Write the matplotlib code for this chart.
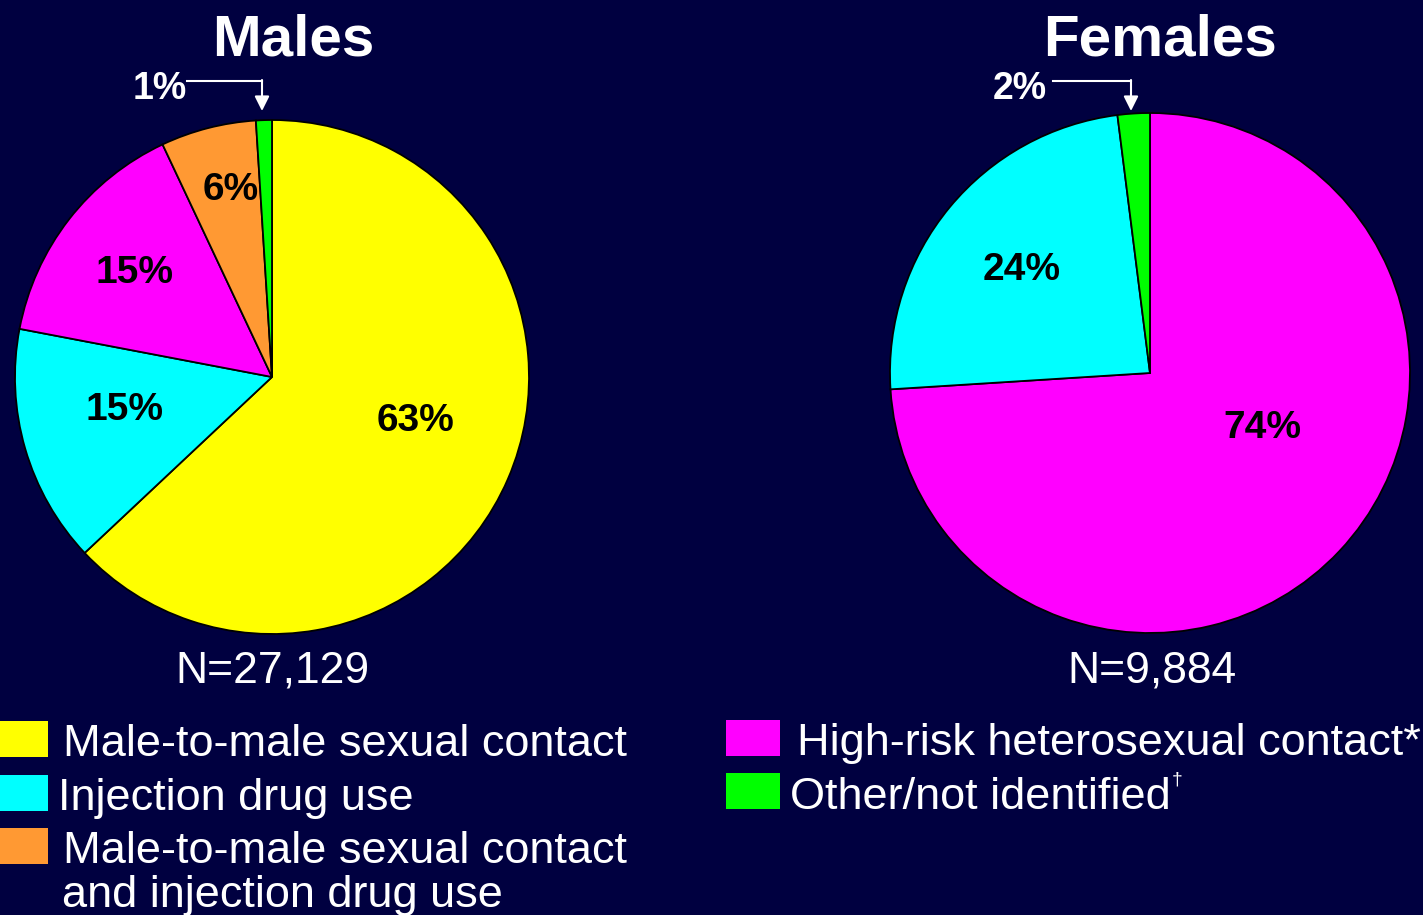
import numpy as np
import matplotlib.pyplot as plt
from matplotlib.patches import Rectangle

plt.rcParams['font.family'] = ['Liberation Sans', 'DejaVu Sans']

# data
male_labels = ['Male-to-male sexual contact', 'Injection drug use',
               'High-risk heterosexual contact*',
               'Male-to-male sexual contact\nand injection drug use',
               'Other/not identified']
male_values = [63, 15, 15, 6, 1]
male_n = 'N=27,129'

female_labels = ['High-risk heterosexual contact*', 'Injection drug use',
                 'Other/not identified']
female_values = [74, 24, 2]
female_n = 'N=9,884'

bg = '#000040'
col = {'msm': '#FFFF00', 'idu': '#00FFFF', 'het': '#FF00FF',
       'msmidu': '#FF9933', 'other': '#00FF00'}
male_colors = [col['msm'], col['idu'], col['het'], col['msmidu'], col['other']]
female_colors = [col['het'], col['idu'], col['other']]

W, H = 1423, 915
fig = plt.figure(figsize=(W / 100, H / 100), dpi=100, facecolor=bg)


def pie_axes(cx, cy, r, values, colors):
    ax = fig.add_axes([(cx - r) / W, (H - cy - r) / H, 2 * r / W, 2 * r / H])
    ax.pie(values, colors=colors, startangle=90, counterclock=False,
           radius=1, wedgeprops=dict(edgecolor='black', linewidth=1.3))
    ax.set_xlim(-1, 1)
    ax.set_ylim(-1, 1)
    ax.set_aspect('equal')
    ax.axis('off')
    return ax


ax_m = pie_axes(272, 377, 257, male_values, male_colors)
ax_f = pie_axes(1150, 373, 260, female_values, female_colors)

# overlay in pixel coordinates for text
ov = fig.add_axes([0, 0, 1, 1], facecolor='none')
ov.set_xlim(0, W)
ov.set_ylim(H, 0)
ov.axis('off')

ov.text(293, 55, 'Males', color='white', fontsize=42, fontweight='bold',
        ha='center', va='baseline')
ov.text(1160, 55, 'Females', color='white', fontsize=42, fontweight='bold',
        ha='center', va='baseline')

pct_kw = dict(color='black', fontsize=28, fontweight='bold', ha='center', va='center')
male_pct_pos = [(416, 421), (124, 410), (135, 273), (231, 190)]
for (x, y), v in zip(male_pct_pos, male_values[:4]):
    ov.text(x, y, f'{v}%', **pct_kw)
female_pct_pos = [(1262, 428), (1022, 270)]
for (x, y), v in zip(female_pct_pos, female_values[:2]):
    ov.text(x, y, f'{v}%', **pct_kw)

# small slice callouts
for x, v, x0, x1 in [(160, male_values[4], 187, 262), (1020, female_values[2], 1053, 1131)]:
    ov.text(x, 99, f'{v}%', color='white', fontsize=27, fontweight='bold',
            ha='center', va='baseline')
    ov.plot([x0, x1], [81, 81], color='white', lw=1.5)
    ov.annotate('', xy=(x1, 111), xytext=(x1, 80),
                arrowprops=dict(arrowstyle='-|>', color='white', lw=1.5,
                                mutation_scale=22, shrinkA=0, shrinkB=0))

ov.text(272, 682, male_n, color='white', fontsize=32, ha='center', va='baseline')
ov.text(1152, 682, female_n, color='white', fontsize=32, ha='center', va='baseline')

# legends
leg_fs = 32.5
left_items = [(col['msm'], 721, 'Male-to-male sexual contact', 63, 756),
              (col['idu'], 775, 'Injection drug use', 58, 810),
              (col['msmidu'], 828, 'Male-to-male sexual contact', 63, 863)]
for c, y, txt, tx, base in left_items:
    ov.add_patch(Rectangle((0, y), 48, 36, facecolor=c, edgecolor='none'))
    ov.text(tx, base, txt, color='white', fontsize=leg_fs, va='baseline')
ov.text(62, 907, 'and injection drug use', color='white', fontsize=leg_fs, va='baseline')

right_items = [(col['het'], 720, 'High-risk heterosexual contact*', 797, 755),
               (col['other'], 773, 'Other/not identified', 790, 809)]
for c, y, txt, tx, base in right_items:
    ov.add_patch(Rectangle((726, y), 54, 36, facecolor=c, edgecolor='none'))
    ov.text(tx, base, txt, color='white', fontsize=leg_fs, va='baseline')
ov.text(1172, 784, '\u2020', color='white', fontsize=14, va='baseline')

fig.savefig('out.png', dpi=100, facecolor=bg)
